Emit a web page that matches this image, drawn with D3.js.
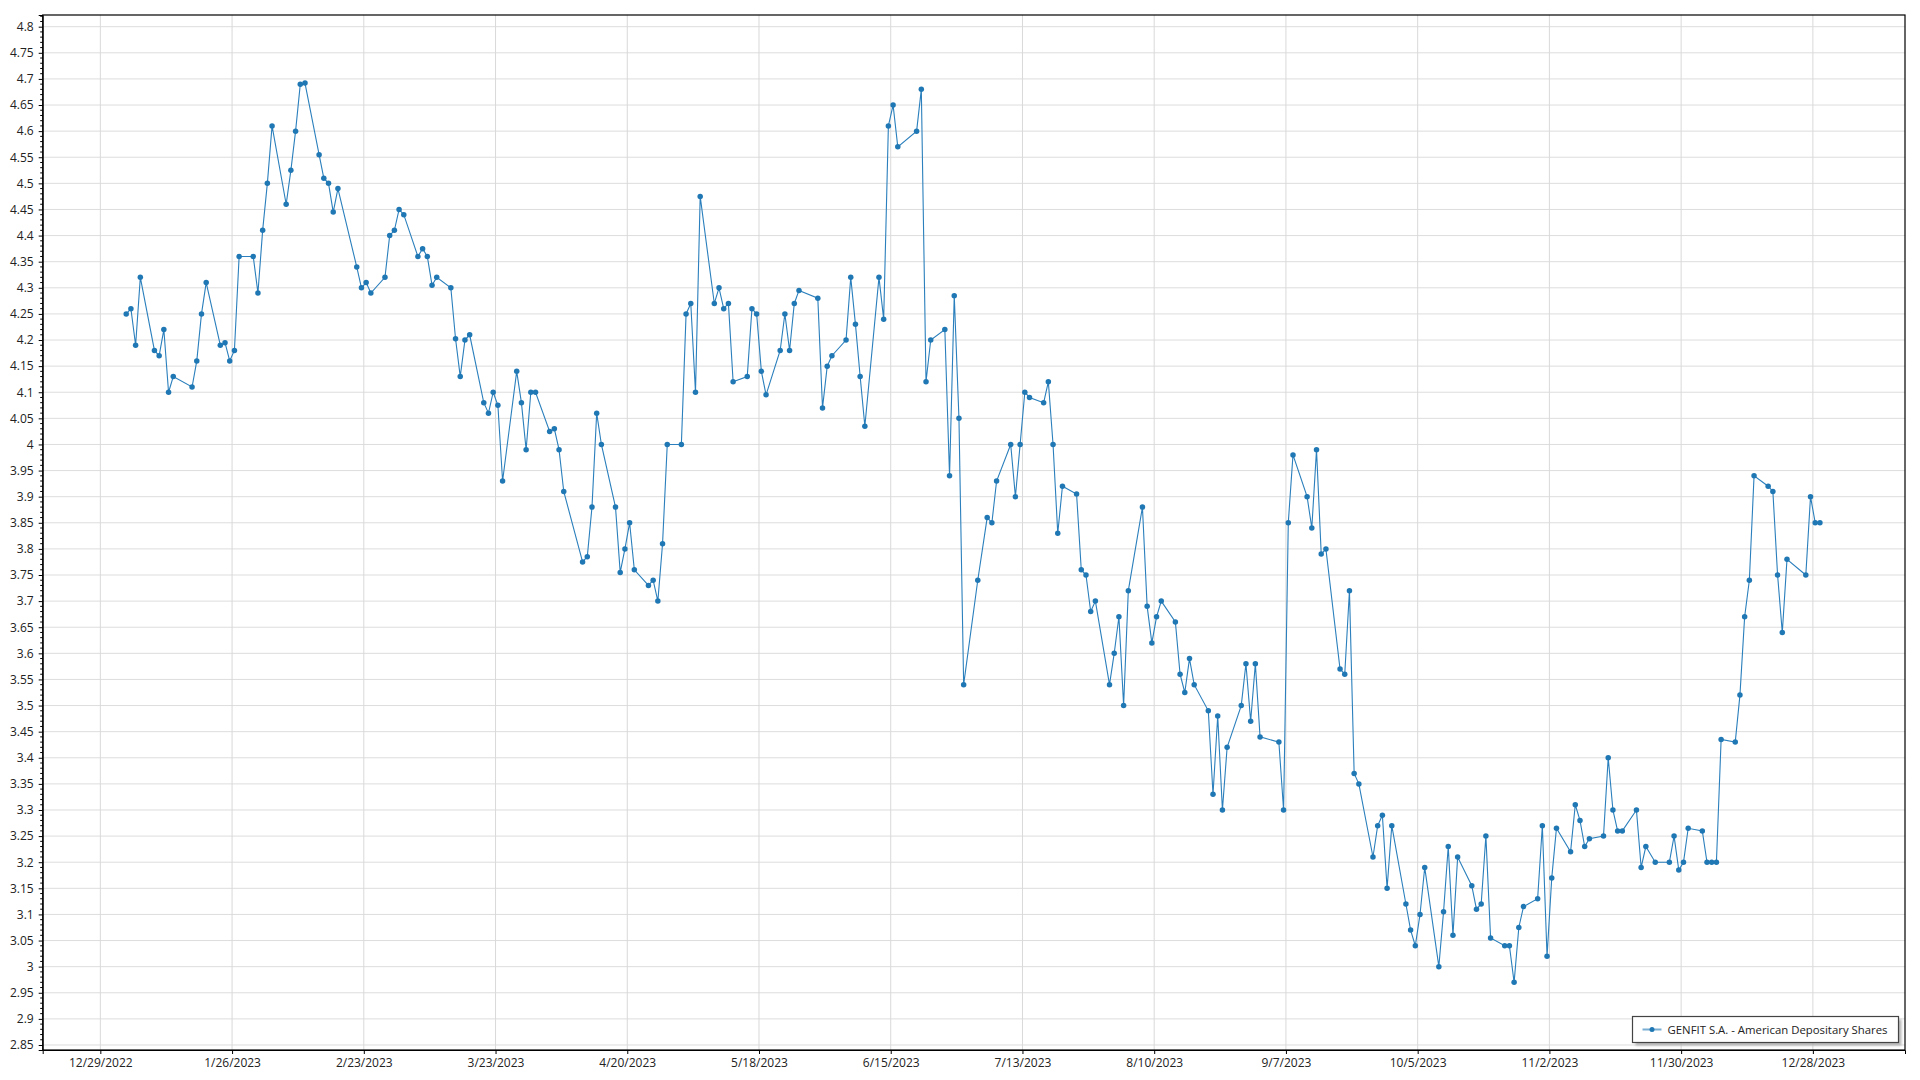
<!DOCTYPE html>
<html><head><meta charset="utf-8">
<script src="https://cdn.jsdelivr.net/npm/d3@7"></script>
<style>
html,body{margin:0;padding:0;background:#fff;}
svg{display:block;font-family:"Segoe UI","Open Sans",sans-serif;}
</style></head><body>
<svg id="chart" width="1920" height="1080"></svg>
<script>
const seriesName = "GENFIT S.A. - American Depositary Shares";

// Trading days (day of month) and close prices, 2023
const daysJan = [3,4,5,6,9,10,11,12,13,17,18,19,20,23,24,25,26,27,30,31];
const closeJan = [4.25,4.26,4.19,4.32,4.18,4.17,4.22,4.10,4.13,4.11,4.16,4.25,4.31,4.19,4.195,4.16,4.18,4.36,4.36,4.29];
const daysFeb = [1,2,3,6,7,8,9,10,13,14,15,16,17,21,22,23,24,27,28];
const closeFeb = [4.41,4.50,4.61,4.46,4.525,4.60,4.69,4.692,4.555,4.51,4.50,4.445,4.49,4.34,4.30,4.31,4.29,4.32,4.40];
const daysMar = [1,2,3,6,7,8,9,10,13,14,15,16,17,20,21,22,23,24,27,28,29,30,31];
const closeMar = [4.41,4.45,4.44,4.36,4.375,4.36,4.305,4.32,4.30,4.2025,4.13,4.20,4.21,4.08,4.06,4.10,4.075,3.93,4.14,4.08,3.99,4.10,4.10];
const daysApr = [3,4,5,6,10,11,12,13,14,17,18,19,20,21,24,25,26,27,28];
const closeApr = [4.025,4.03,3.99,3.91,3.775,3.785,3.88,4.06,4.00,3.88,3.755,3.80,3.85,3.76,3.73,3.74,3.70,3.81,4.00];
const daysMay = [1,2,3,4,5,8,9,10,11,12,15,16,17,18,19,22,23,24,25,26,30,31];
const closeMay = [4.00,4.25,4.27,4.10,4.475,4.27,4.30,4.26,4.27,4.12,4.13,4.26,4.25,4.14,4.095,4.18,4.25,4.18,4.27,4.295,4.28,4.07];
const daysJun = [1,2,5,6,7,8,9,12,13,14,15,16,20,21,22,23,26,27,28,29,30];
const closeJun = [4.15,4.17,4.20,4.32,4.23,4.13,4.035,4.32,4.24,4.61,4.65,4.57,4.60,4.68,4.12,4.20,4.22,3.94,4.285,4.05,3.54];
const daysJul = [3,5,6,7,10,11,12,13,14,17,18,19,20,21,24,25,26,27,28,31];
const closeJul = [3.74,3.86,3.85,3.93,4.00,3.90,4.00,4.10,4.09,4.08,4.12,4.00,3.83,3.92,3.905,3.76,3.75,3.68,3.70,3.54];
const daysAug = [1,2,3,4,7,8,9,10,11,14,15,16,17,18,21,22,23,24,25,28,29,30,31];
const closeAug = [3.60,3.67,3.50,3.72,3.88,3.69,3.62,3.67,3.70,3.66,3.56,3.525,3.59,3.54,3.49,3.33,3.48,3.30,3.42,3.50,3.58,3.47,3.58];
const daysSep = [1,5,6,7,8,11,12,13,14,15,18,19,20,21,22,25,26,27,28,29];
const closeSep = [3.44,3.43,3.30,3.85,3.98,3.90,3.84,3.99,3.79,3.80,3.57,3.56,3.72,3.37,3.35,3.21,3.27,3.29,3.15,3.27];
const daysOct = [2,3,4,5,6,9,10,11,12,13,16,17,18,19,20,23,24,25,26,27,30,31];
const closeOct = [3.12,3.07,3.04,3.10,3.19,3.00,3.105,3.23,3.06,3.21,3.155,3.11,3.12,3.25,3.055,3.04,3.04,2.97,3.075,3.115,3.13,3.27];
const daysNov = [1,2,3,6,7,8,9,10,13,14,15,16,17,20,21,22,24,27,28,29,30];
const closeNov = [3.02,3.17,3.265,3.22,3.31,3.28,3.23,3.245,3.25,3.40,3.30,3.26,3.26,3.30,3.19,3.23,3.20,3.20,3.25,3.185,3.20];
const daysDec = [1,4,5,6,7,8,11,12,13,14,15,18,19,20,21,22,26,27,28,29];
const closeDec = [3.265,3.26,3.20,3.20,3.20,3.435,3.43,3.52,3.67,3.74,3.94,3.92,3.91,3.75,3.64,3.78,3.75,3.90,3.85,3.85];

const xTickLabels = ["12/29/2022","1/26/2023","2/23/2023","3/23/2023","4/20/2023","5/18/2023","6/15/2023",
  "7/13/2023","8/10/2023","9/7/2023","10/5/2023","11/2/2023","11/30/2023","12/28/2023"];
const yTicks = [2.85,2.9,2.95,3,3.05,3.1,3.15,3.2,3.25,3.3,3.35,3.4,3.45,3.5,3.55,3.6,3.65,3.7,3.75,3.8,
  3.85,3.9,3.95,4,4.05,4.1,4.15,4.2,4.25,4.3,4.35,4.4,4.45,4.5,4.55,4.6,4.65,4.7,4.75,4.8];

// build dataset
const monthDays = [daysJan,daysFeb,daysMar,daysApr,daysMay,daysJun,daysJul,daysAug,daysSep,daysOct,daysNov,daysDec];
const monthClose = [closeJan,closeFeb,closeMar,closeApr,closeMay,closeJun,closeJul,closeAug,closeSep,closeOct,closeNov,closeDec];
const data = [];
monthDays.forEach((days, m) => days.forEach((d, i) => data.push({date: new Date(2023, m, d, 12), v: monthClose[m][i]})));

const L = 42.7, R = 1905, T = 15, B = 1050;
const svg = d3.select("#chart");

const x = d3.scaleTime()
  .domain([new Date(2022, 11, 16, 18), new Date(2024, 0, 16, 14)])
  .range([L, R]);
const y = d3.scaleLinear().domain([2.8404, 4.8224]).range([B, T]);

const xTickDates = xTickLabels.map(s => { const [mm, dd, yy] = s.split("/").map(Number); return new Date(yy, mm - 1, dd); });

// grid
const grid = svg.append("g");
grid.selectAll("line.h").data(yTicks).join("line")
  .attr("x1", L).attr("x2", R).attr("y1", d => y(d)).attr("y2", d => y(d))
  .attr("stroke", "#dddddd").attr("stroke-width", 1);
grid.selectAll("line.v").data(xTickDates).join("line")
  .attr("x1", d => x(d)).attr("x2", d => x(d)).attr("y1", T).attr("y2", B)
  .attr("stroke", "#d9d9d9").attr("stroke-width", 1);

// frame
svg.append("rect").attr("x", L).attr("y", T).attr("width", R - L).attr("height", B - T)
  .attr("fill", "none").attr("stroke", "#000").attr("stroke-width", 1.2);

// y axis
const yAxis = d3.axisLeft(y).tickValues(yTicks).tickSize(4).tickPadding(5).tickFormat(d => String(+d.toFixed(2)));
const gy = svg.append("g").attr("transform", `translate(${L},0)`).call(yAxis);
gy.select(".domain").attr("stroke", "#000");
gy.selectAll(".tick line").attr("stroke", "#000");
gy.selectAll("text").attr("font-size", 12).attr("fill", "#222").attr("font-family", '"Segoe UI","Open Sans",sans-serif');
// minor ticks
const minor = d3.range(2.85, 4.8201, 0.01).filter(v => Math.abs(Math.round(v / 0.05) * 0.05 - v) > 1e-6);
svg.append("g").selectAll("line").data(minor).join("line")
  .attr("x1", L - 2.5).attr("x2", L).attr("y1", d => y(d)).attr("y2", d => y(d))
  .attr("stroke", "#000").attr("stroke-width", 1);

// x axis
const xAxis = d3.axisBottom(x).tickValues(xTickDates).tickSize(4).tickPadding(4)
  .tickFormat((d, i) => xTickLabels[i]);
const gx = svg.append("g").attr("transform", `translate(0,${B})`).call(xAxis);
gx.select(".domain").attr("stroke", "#000");
gx.selectAll(".tick line").attr("stroke", "#000");
gx.selectAll("text").attr("font-size", 12).attr("fill", "#222").attr("font-family", '"Segoe UI","Open Sans",sans-serif');

// series
const line = d3.line().x(d => x(d.date)).y(d => y(d.v));
svg.append("path").datum(data).attr("d", line)
  .attr("fill", "none").attr("stroke", "#2a7fbc").attr("stroke-width", 1.1);
svg.append("g").selectAll("circle").data(data).join("circle")
  .attr("cx", d => x(d.date)).attr("cy", d => y(d.v)).attr("r", 2.75)
  .attr("fill", "#1f77b4");

// legend
const defs = svg.append("defs");
defs.append("filter").attr("id", "blur").append("feGaussianBlur").attr("stdDeviation", 1.2);
const lg = svg.append("g").attr("transform", "translate(1632.5,1016.5)");
lg.append("rect").attr("x", 3).attr("y", 3).attr("width", 266).attr("height", 26)
  .attr("fill", "#999").attr("opacity", 0.7).attr("filter", "url(#blur)");
lg.append("rect").attr("width", 266).attr("height", 26).attr("fill", "#fff")
  .attr("stroke", "#444").attr("stroke-width", 1.2);
lg.append("line").attr("x1", 10).attr("x2", 29).attr("y1", 13).attr("y2", 13)
  .attr("stroke", "#1f77b4").attr("stroke-opacity", 0.6).attr("stroke-width", 2);
lg.append("circle").attr("cx", 19.5).attr("cy", 13).attr("r", 2.5).attr("fill", "#1f77b4");
lg.append("text").attr("x", 35).attr("y", 13).attr("dy", "0.35em")
  .attr("font-size", 11.5).attr("textLength", 220).attr("lengthAdjust", "spacingAndGlyphs")
  .attr("fill", "#222").text(seriesName);
</script>
</body></html>
